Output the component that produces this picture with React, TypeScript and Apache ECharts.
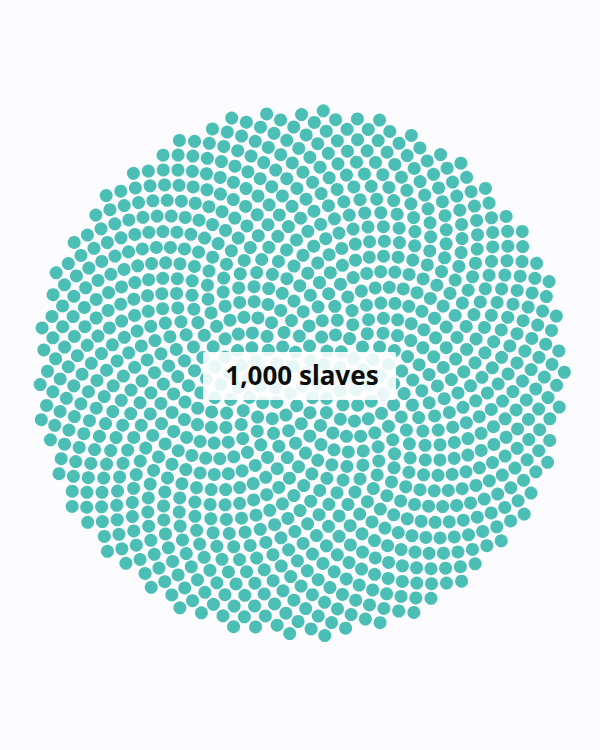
import React, { useEffect, useRef } from "react";
import * as echarts from "echarts";

// Data: one dot per enslaved person
const slaveCount: number[] = [1000];
const unitLabel: string[] = ["slaves"];

// Layout constants (sunflower packing of the dots in a disc)
const GOLDEN_ANGLE = Math.PI * (3 - Math.sqrt(5));

function buildDots(n: number): [number, number][] {
  const pts: [number, number][] = [];
  for (let i = 0; i < n; i++) {
    const r = Math.sqrt((i + 0.5) / n);
    const a = i * GOLDEN_ANGLE;
    pts.push([r * Math.cos(a), r * Math.sin(a)]);
  }
  return pts;
}

export default function App() {
  const ref = useRef<HTMLDivElement>(null);
  useEffect(() => {
    if (!ref.current) return;
    const chart = echarts.init(ref.current, null, { renderer: "svg" });
    const n = slaveCount[0];
    const dots = buildDots(n);
    const R = 265;
    const cx = 301;
    const cy = 373;
    const label = `${n.toLocaleString("en-US")} ${unitLabel[0]}`;
    chart.setOption({
      animation: false,
      backgroundColor: "#fcfbfd",
      grid: { left: 0, right: 0, top: 0, bottom: 0, containLabel: false },
      xAxis: {
        type: "value",
        min: -cx / R,
        max: (600 - cx) / R,
        show: false,
      },
      yAxis: {
        type: "value",
        min: -(750 - cy) / R,
        max: cy / R,
        show: false,
      },
      series: [
        {
          type: "scatter",
          data: dots,
          symbol: "circle",
          symbolSize: 13,
          itemStyle: { color: "#4bbfb6", opacity: 1 },
          silent: true,
          z: 2,
        },
      ],
      graphic: [
        {
          type: "group",
          left: 203,
          top: 352,
          z: 100,
          children: [
            {
              type: "rect",
              z: 100,
              shape: { x: 0, y: 0, width: 193, height: 48, r: 2 },
              style: { fill: "rgba(255,255,255,0.88)" },
            },
            {
              type: "text",
              z: 101,
              x: 99,
              y: 23,
              style: {
                text: label,
                fill: "#0d0d0d",
                font: "bold 26px 'Noto Sans', sans-serif",
                textAlign: "center",
                textVerticalAlign: "middle",
              },
            },
          ],
        },
      ],
    });
    return () => chart.dispose();
  }, []);
  return (
    <div
      ref={ref}
      style={{ position: "absolute", left: 0, top: 0, width: 600, height: 750 }}
    />
  );
}
